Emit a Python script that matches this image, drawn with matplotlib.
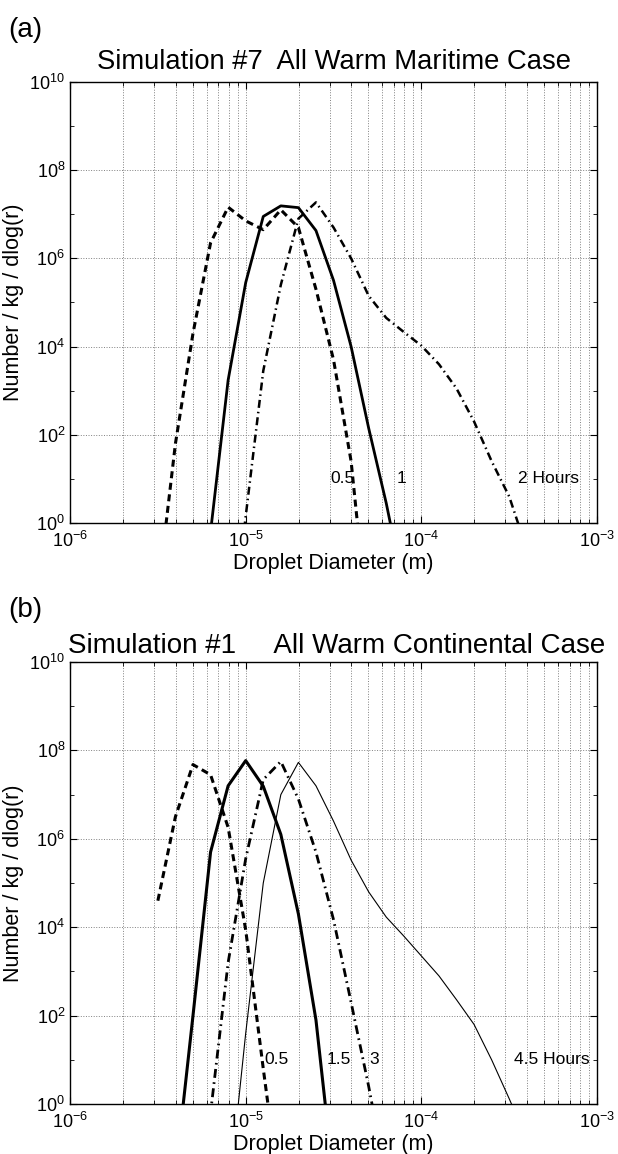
import numpy as np
import matplotlib
matplotlib.use("Agg")
import matplotlib.pyplot as plt
from matplotlib.ticker import FixedLocator, LogLocator, NullFormatter

plt.rcParams['font.family'] = ['Liberation Sans', 'DejaVu Sans']
plt.rcParams['mathtext.fontset'] = 'custom'
plt.rcParams['mathtext.rm'] = 'Liberation Sans'
plt.rcParams['mathtext.default'] = 'regular'

# (a) maritime case, log10 diameter (m) / log10 number per kg per dlog(r)
a_x_05 = [-5.5, -5.4, -5.3, -5.2, -5.1, -5.0, -4.9, -4.8, -4.7, -4.6, -4.5, -4.4, -4.3]
a_y_05 = [-1.6, 1.8, 4.3, 6.35, 7.16, 6.85, 6.65, 7.1, 6.7, 5.3, 3.7, 1.4, -2.5]
a_x_1 = [-5.2, -5.1, -5.0, -4.9, -4.8, -4.7, -4.6, -4.5, -4.4, -4.3, -4.2, -4.1]
a_y_1 = [-0.2, 3.24, 5.45, 6.95, 7.19, 7.15, 6.63, 5.5, 4.0, 2.15, 0.45, -1.5]
a_x_2 = [-5.1, -5.0, -4.9, -4.8, -4.7, -4.6, -4.5, -4.4, -4.3, -4.2, -4.1, -4.0,
         -3.9, -3.8, -3.7, -3.6, -3.5, -3.4]
a_y_2 = [-3.3, 0.15, 3.45, 5.4, 6.9, 7.27, 6.7, 6.0, 5.15, 4.65, 4.33, 4.02,
         3.6, 3.05, 2.3, 1.4, 0.6, -0.6]

# (b) continental case
b_x_05 = [-5.5, -5.4, -5.3, -5.2, -5.1, -5.0, -4.9, -4.8]
b_y_05 = [4.6, 6.5, 7.68, 7.45, 6.26, 3.94, 0.8, -2.2]
b_x_15 = [-5.4, -5.3, -5.2, -5.1, -5.0, -4.9, -4.8, -4.7, -4.6, -4.5]
b_y_15 = [-1.6, 2.0, 5.7, 7.2, 7.77, 7.19, 6.1, 4.3, 1.9, -1.7]
b_x_3 = [-5.3, -5.2, -5.1, -5.0, -4.9, -4.8, -4.7, -4.6, -4.5, -4.4, -4.3, -4.2]
b_y_3 = [-3.2, -0.2, 3.2, 5.55, 7.34, 7.75, 6.9, 5.7, 4.17, 2.3, 0.4, -1.7]
b_x_45 = [-5.1, -5.0, -4.9, -4.8, -4.7, -4.6, -4.5, -4.4, -4.3, -4.2, -4.1, -4.0,
          -3.9, -3.8, -3.7, -3.6, -3.5, -3.4]
b_y_45 = [-2.2, 1.6, 5.0, 7.0, 7.73, 7.2, 6.4, 5.52, 4.8, 4.23, 3.8, 3.35,
          2.9, 2.36, 1.8, 1.0, 0.12, -0.8]

# curve labels: (text, log10 x of left edge)
a_labels = [("0.5", -4.516), ("1", -4.141), ("2 Hours", -3.449)]
b_labels = [("0.5", -4.896), ("1.5", -4.539), ("3", -4.296), ("4.5 Hours", -3.471)]

DASH = (0, (2.3, 1.5))
DASHDOT = (0, (3.2, 1.6, 0.6, 1.6))


def p(v):
    return 10.0 ** np.array(v)


def style_axes(ax):
    ax.set_xscale('log')
    ax.set_yscale('log')
    ax.set_xlim(1e-6, 1e-3)
    ax.set_ylim(1, 1e10)
    ax.xaxis.set_major_locator(LogLocator(base=10, numticks=10))
    ax.xaxis.set_minor_locator(LogLocator(base=10, subs=np.arange(2, 10), numticks=20))
    ax.xaxis.set_minor_formatter(NullFormatter())
    ax.yaxis.set_major_locator(FixedLocator([1e0, 1e2, 1e4, 1e6, 1e8, 1e10]))
    ax.yaxis.set_minor_locator(FixedLocator([1e1, 1e3, 1e5, 1e7, 1e9]))
    ax.yaxis.set_minor_formatter(NullFormatter())
    ax.grid(True, which='major', axis='both', linestyle=':', color='0.5', lw=0.7)
    ax.grid(True, which='minor', axis='x', linestyle=':', color='0.5', lw=0.7)
    ax.tick_params(which='both', direction='in', top=True, right=True, labelsize=13)
    ax.tick_params(axis='x', which='major', pad=6)
    ax.tick_params(which='major', length=5)
    ax.tick_params(which='minor', length=3)
    for s in ax.spines.values():
        s.set_linewidth(1.0)
    ax.set_xlabel('Droplet Diameter (m)', fontsize=15.5, labelpad=1)
    ax.set_ylabel('Number / kg / dlog(r)', fontsize=15.5, labelpad=4)


fig = plt.figure(figsize=(6.18, 11.54), dpi=100)
ax1 = fig.add_axes([0.1133, 0.5468, 0.8528, 0.3822])
ax2 = fig.add_axes([0.1133, 0.0433, 0.8528, 0.383])

ax1.plot(p(a_x_05), p(a_y_05), color='k', lw=2.2, linestyle=DASH)
ax1.plot(p(a_x_1), p(a_y_1), color='k', lw=2.0, linestyle='-')
ax1.plot(p(a_x_2), p(a_y_2), color='k', lw=1.8, linestyle=DASHDOT)
for txt, lx in a_labels:
    ax1.text(10 ** lx, 10, txt, fontsize=12.5, va='center', ha='left')

ax2.plot(p(b_x_05), p(b_y_05), color='k', lw=2.2, linestyle=DASH)
ax2.plot(p(b_x_15), p(b_y_15), color='k', lw=2.2, linestyle='-')
ax2.plot(p(b_x_3), p(b_y_3), color='k', lw=2.0, linestyle=DASHDOT)
ax2.plot(p(b_x_45), p(b_y_45), color='k', lw=0.8, linestyle='-')
for txt, lx in b_labels:
    ax2.text(10 ** lx, 10, txt, fontsize=12.5, va='center', ha='left')

for ax in (ax1, ax2):
    style_axes(ax)

fig.text(8 / 618, 1 - 30 / 1154, '(a)', fontsize=20, va='center', ha='left')
fig.text(334 / 618, 1 - 62 / 1154, 'Simulation #7  All Warm Maritime Case',
         fontsize=19.7, va='center', ha='center')
fig.text(8 / 618, 1 - 610 / 1154, '(b)', fontsize=20, va='center', ha='left')
fig.text(68 / 618, 1 - 646 / 1154, 'Simulation #1     All Warm Continental Case',
         fontsize=20, va='center', ha='left')

fig.savefig('out.png', dpi=100)
